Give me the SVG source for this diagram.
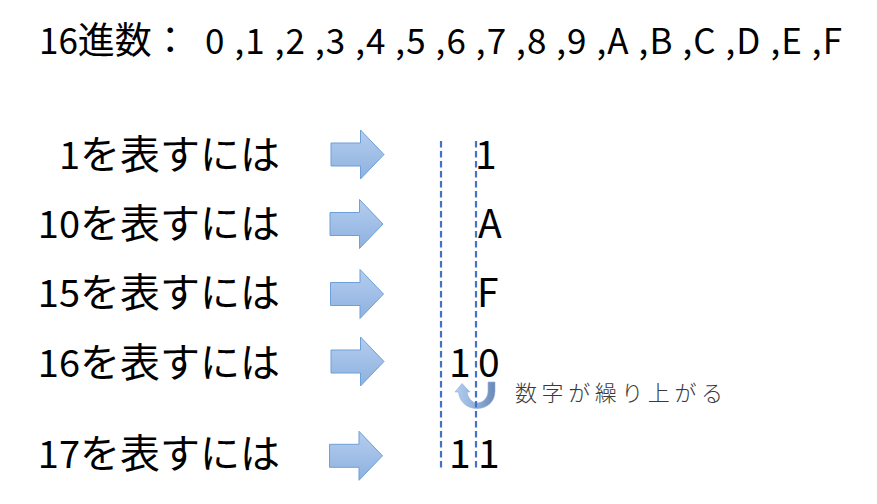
<svg xmlns="http://www.w3.org/2000/svg" width="877" height="504" viewBox="0 0 877 504">
<style>
.lat{font-family:"Noto Sans CJK JP","Noto Sans",sans-serif;font-size:38px;fill:#000}
.val{font-family:"Noto Sans CJK JP","Noto Sans",sans-serif;font-size:39px;fill:#000}
.cjk{font-family:"Noto Sans CJK JP",sans-serif;font-size:40px;fill:#000}
.dash{stroke:#4472c4;stroke-width:2.2;stroke-dasharray:6.5 3.5;fill:none}
.arr{fill:url(#ag);stroke:#6d9fd8;stroke-width:1}
.note{font-family:"Noto Sans CJK JP",sans-serif;font-size:22px;font-weight:300;fill:#3a3a3a}
</style>
<defs>
<linearGradient id="ag" x1="0" y1="0" x2="0" y2="1">
<stop offset="0" stop-color="#b5cdee"/>
<stop offset="1" stop-color="#8db1e0"/>
</linearGradient>
<linearGradient id="ug" x1="0" y1="0" x2="1" y2="0">
<stop offset="0" stop-color="#b3cff0"/>
<stop offset="0.5" stop-color="#93b1dc"/>
<stop offset="1" stop-color="#6c88b4"/>
</linearGradient>
<path id="blk" d="M0,-11.5 H29.5 V-24.5 L53,0 L29.5,24.5 V11.5 H0 Z"/>
</defs>
<rect width="877" height="504" fill="#fff"/>
<g id="title">
<text x="39" y="54"><tspan class="lat" style="font-size:35px">16</tspan><tspan class="cjk" style="font-size:37px">進数：</tspan></text>
<text class="lat" style="font-size:35px" x="205" y="54" textLength="637" lengthAdjust="spacing">0 ,1 ,2 ,3 ,4 ,5 ,6 ,7 ,8 ,9 ,A ,B ,C ,D ,E ,F</text>
</g>
<g id="row1">
<text class="lat" x="80" y="169" text-anchor="end">1</text>
<text class="cjk" x="80" y="169">を表すには</text>
</g>
<g id="row2">
<text class="lat" x="80" y="238" text-anchor="end">10</text>
<text class="cjk" x="80" y="238">を表すには</text>
</g>
<g id="row3">
<text class="lat" x="80" y="307" text-anchor="end">15</text>
<text class="cjk" x="80" y="307">を表すには</text>
</g>
<g id="row4">
<text class="lat" x="80" y="377" text-anchor="end">16</text>
<text class="cjk" x="80" y="377">を表すには</text>
</g>
<g id="row5">
<text class="lat" x="80" y="468" text-anchor="end">17</text>
<text class="cjk" x="80" y="468">を表すには</text>
</g>
<g id="arrows">
<use href="#blk" class="arr" transform="translate(331,154.5)"/>
<use href="#blk" class="arr" transform="translate(330,224)"/>
<use href="#blk" class="arr" transform="translate(330.5,294)"/>
<use href="#blk" class="arr" transform="translate(331,361.5)"/>
<use href="#blk" class="arr" transform="translate(329.5,455.8)"/>
</g>
<g id="carry-arrow">
<path d="M488,382 L495,382 L495,391 C495,402 487,408.5 477,408.5 C467,408.5 459.5,402 458.5,392 L455,392 L462,383.5 L470,392 L467,392 C468,398 472,403 477,403 C483,403 488,398 488,391 Z" fill="url(#ug)" stroke="#8fb0dc" stroke-width="0.6"/>
</g>
<g id="connectors">
<line class="dash" x1="441" y1="141" x2="441" y2="469"/>
<line class="dash" x1="476" y1="141" x2="476" y2="469"/>
</g>
<g id="values">
<text class="val" x="475" y="169">1</text>
<text class="val" x="478" y="238">A</text>
<text class="val" x="477" y="307">F</text>
<text class="val" x="449" y="377">1</text>
<text class="val" x="478" y="377">0</text>
<text class="val" x="449" y="468">1</text>
<text class="val" x="478" y="468">1</text>
</g>
<g id="note">
<text class="note" x="515" y="401" textLength="208" lengthAdjust="spacing">数字が繰り上がる</text>
</g>
</svg>
